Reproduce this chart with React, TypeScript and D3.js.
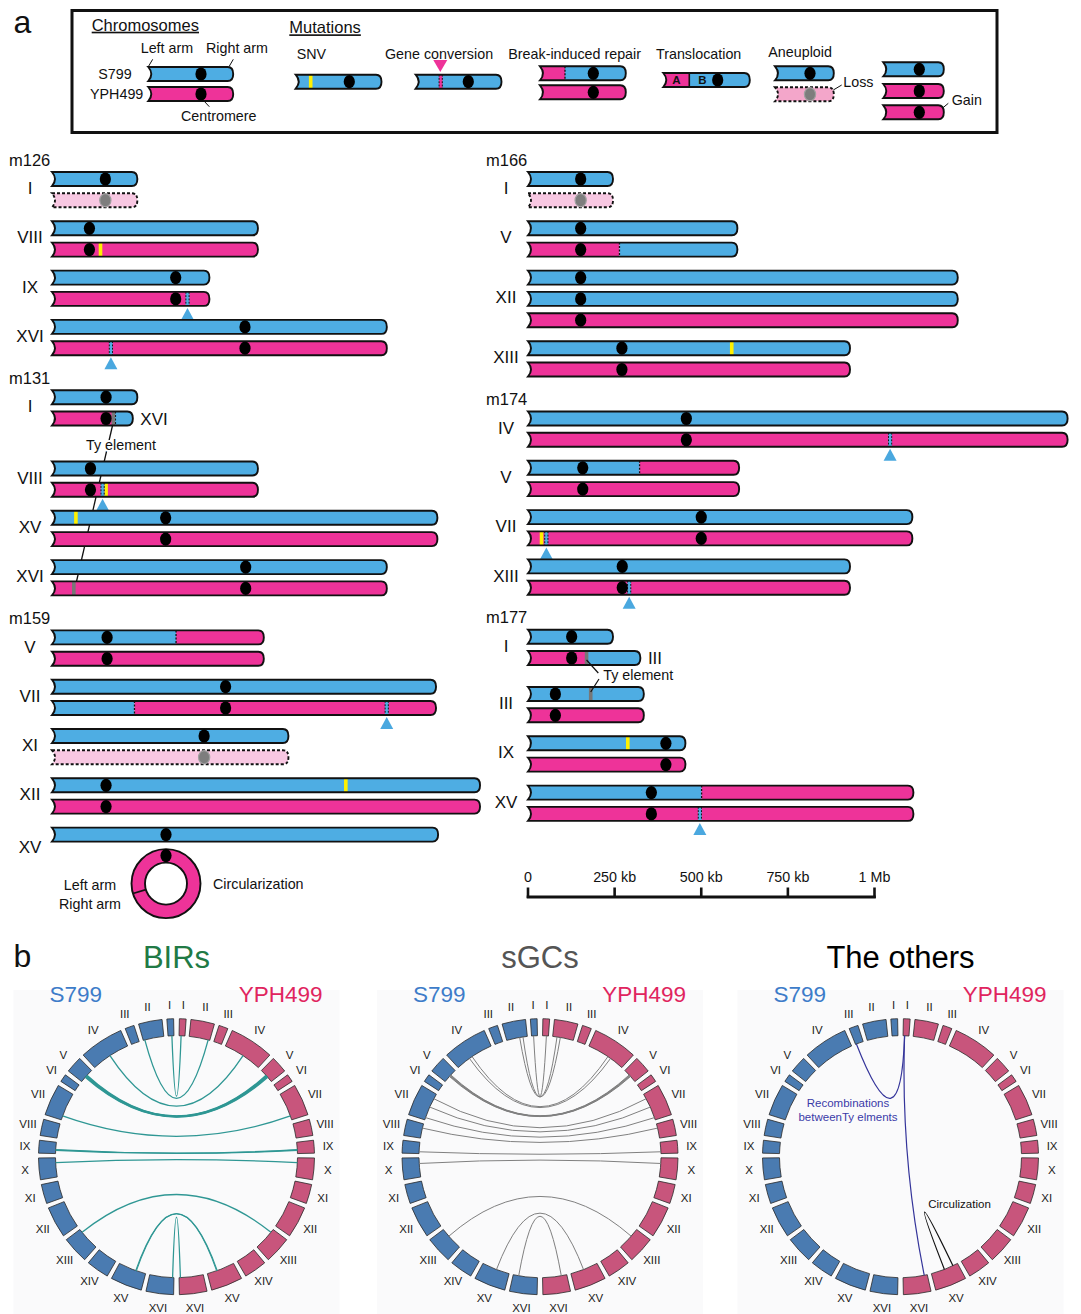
import React from 'react';
import * as d3 from 'd3';

const BLUE = '#4eade3';
const PINK = '#ee3399';
const LOSS_FILL = '#f8c8e2';
const LEGEND_LOSS_FILL = '#f3a6ca';
const YELLOW = '#fff100';
const TY_GREY = '#777777';
const TRI_BLUE = '#4aa8df';
const FONT = "'Liberation Sans', Arial, Helvetica, sans-serif";

type Seg = [string, number, number];
type Row = { c?: string; segs?: Seg[]; end?: number; snv?: number[]; gc?: number[]; ty?: number[]; junc?: number[]; tag?: string; ring?: boolean };
type Group = { chr: string; len: number; cen: number; rows: Row[]; extra?: number };

// ---------- part a : chromosome values in kb ----------
const m126Groups: Group[] = [
  { chr: 'I', len: 242, cen: 154, rows: [{ c: 'B' }, { c: 'L' }] },
  { chr: 'VIII', len: 590, cen: 108, rows: [{ c: 'B' }, { c: 'P', snv: [140] }] },
  { chr: 'IX', len: 450, cen: 357, rows: [{ c: 'B' }, { c: 'P', gc: [391] }] },
  { chr: 'XVI', len: 962, cen: 557, rows: [{ c: 'B' }, { c: 'P', gc: [170] }] },
];
const m131Groups: Group[] = [
  { chr: 'I', len: 242, cen: 156, extra: 22, rows: [{ c: 'B' }, { segs: [['P', 0, 182], ['B', 182, 229]], end: 229, ty: [177], junc: [183], tag: 'XVI' }] },
  { chr: 'VIII', len: 590, cen: 111, rows: [{ c: 'B' }, { c: 'P', gc: [146], snv: [156] }] },
  { chr: 'XV', len: 1108, cen: 328, rows: [{ c: 'B', snv: [69] }, { c: 'P' }] },
  { chr: 'XVI', len: 962, cen: 559, rows: [{ c: 'B' }, { c: 'P', ty: [63] }] },
];
const m159Groups: Group[] = [
  { chr: 'V', len: 607, cen: 159, rows: [{ segs: [['B', 0, 358], ['P', 358, 607]], junc: [358] }, { c: 'P' }] },
  { chr: 'VII', len: 1104, cen: 501, rows: [{ c: 'B' }, { segs: [['B', 0, 238], ['P', 238, 1104]], junc: [238], gc: [966] }] },
  { chr: 'XI', len: 678, cen: 439, rows: [{ c: 'B' }, { c: 'L' }] },
  { chr: 'XII', len: 1231, cen: 156, rows: [{ c: 'B', snv: [848] }, { c: 'P' }] },
  { chr: 'XV', len: 1110, cen: 329, rows: [{ c: 'B' }, { c: 'P', ring: true }] },
];
const m166Groups: Group[] = [
  { chr: 'I', len: 241, cen: 152, rows: [{ c: 'B' }, { c: 'L' }] },
  { chr: 'V', len: 600, cen: 152, rows: [{ c: 'B' }, { segs: [['P', 0, 264], ['B', 264, 600]], junc: [264] }] },
  { chr: 'XII', len: 1236, cen: 152, rows: [{ c: 'B' }, { c: 'B' }, { c: 'P' }] },
  { chr: 'XIII', len: 925, cen: 271, rows: [{ c: 'B', snv: [588] }, { c: 'P' }] },
];
const m174Groups: Group[] = [
  { chr: 'IV', len: 1553, cen: 457, rows: [{ c: 'B' }, { c: 'P', gc: [1045] }] },
  { chr: 'V', len: 605, cen: 158, rows: [{ segs: [['B', 0, 322], ['P', 322, 605]], junc: [322] }, { c: 'P' }] },
  { chr: 'VII', len: 1105, cen: 500, rows: [{ c: 'B' }, { c: 'P', snv: [39], gc: [53] }] },
  { chr: 'XIII', len: 925, cen: 272, rows: [{ c: 'B' }, { c: 'P', gc: [292] }] },
];
const m177Groups: Group[] = [
  { chr: 'I', len: 241, cen: 126, extra: 8, rows: [{ c: 'B' }, { segs: [['P', 0, 169], ['B', 169, 320]], end: 320, ty: [169], tag: 'III' }] },
  { chr: 'III', len: 330, cen: 79, rows: [{ c: 'B', ty: [181] }, { c: 'P' }] },
  { chr: 'IX', len: 450, cen: 398, rows: [{ c: 'B', snv: [288] }, { c: 'P' }] },
  { chr: 'XV', len: 1108, cen: 356, rows: [{ segs: [['B', 0, 501], ['P', 501, 1108]], junc: [501] }, { c: 'P', gc: [496] }] },
];

const scaleTicks = [0, 250, 500, 750, 1000];
const scaleTickLabels = ['0', '250 kb', '500 kb', '750 kb', '1 Mb'];

// ---------- part b : circos values ----------
const circChroms = ['I', 'II', 'III', 'IV', 'V', 'VI', 'VII', 'VIII', 'IX', 'X', 'XI', 'XII', 'XIII', 'XIV', 'XV', 'XVI'];
const circLens = [230, 813, 317, 1532, 577, 270, 1091, 563, 440, 746, 667, 1078, 924, 784, 1091, 948];

// [chromosome, kb on S799, kb on YPH499, width]
const birLinks: [string, number, number, number][] = [
  ['I', 80, 80, 1.3], ['II', 750, 750, 1.3], ['IV', 780, 780, 1.3],
  ['V', 260, 260, 1.4], ['V', 285, 285, 1.4], ['V', 310, 310, 1.4], ['V', 335, 335, 1.4], ['V', 360, 360, 1.4],
  ['VII', 930, 930, 1.3], ['IX', 290, 290, 1.3], ['IX', 310, 310, 1.3], ['X', 185, 185, 1.3], ['XIII', 140, 140, 1.3],
  ['XV', 690, 690, 1.1], ['XV', 715, 715, 1.1], ['XVI', 895, 895, 1.3],
];
const sgcLinks: [string, number, number, number][] = [
  ['I', 150, 150, 1], ['II', 170, 170, 1], ['II', 300, 300, 1], ['IV', 845, 845, 1], ['IV', 970, 970, 1],
  ['V', 240, 240, 1], ['V', 260, 260, 1], ['V', 280, 280, 1], ['V', 300, 300, 1], ['V', 320, 320, 1],
  ['VII', 200, 200, 1], ['VII', 560, 560, 1], ['VII', 1000, 1000, 1], ['VIII', 170, 170, 1],
  ['IX', 370, 370, 1], ['X', 220, 220, 1], ['XIII', 335, 335, 1], ['XV', 575, 575, 1], ['XVI', 217, 217, 1],
];
// [sideA, chrA, kbA, sideB, chrB, kbB, kind]
const otherLinks: [string, string, number, string, string, number, string][] = [
  ['S', 'III', 280, 'Y', 'I', 60, 'ty'],
  ['Y', 'I', 60, 'Y', 'XVI', 120, 'ty'],
  ['Y', 'XV', 200, 'Y', 'XV', 560, 'circ'],
];

// ---------- helpers ----------
const KB_PX = d3.scaleLinear().domain([0, 1000]).range([0, 346.5]);
const colorOf: Record<string, string> = { B: BLUE, P: PINK };

type Mark = { type: string; x: number; color?: string };

function Chrom(props: { id: string; x0: number; x1: number; y: number; segs: { color: string; a: number; b: number }[]; cenX?: number; loss?: boolean; lossFill?: string; marks?: Mark[] }) {
  const { id, x0, x1, y, segs, cenX, loss, lossFill, marks = [] } = props;
  const h = 7;
  const d = `M${x0},${y - h} L${x1 - 4},${y - h} Q${x1 + 1.5},${y - h} ${x1 + 1.5},${y} Q${x1 + 1.5},${y + h} ${x1 - 4},${y + h} L${x0},${y + h} Q${x0 + 6},${y} ${x0},${y - h} Z`;
  return (
    <g>
      <clipPath id={id}><path d={d} /></clipPath>
      <g clipPath={`url(#${id})`}>
        {loss ? (
          <rect x={x0 - 2} y={y - h} width={x1 - x0 + 6} height={2 * h} fill={lossFill || LOSS_FILL} />
        ) : (
          segs.map((s, i) => {
            const a = i === 0 ? x0 - 2 : s.a;
            const b = i === segs.length - 1 ? x1 + 4 : s.b;
            return <rect key={i} x={a} y={y - h} width={b - a} height={2 * h} fill={s.color} />;
          })
        )}
        {marks.map((m, i) => {
          if (m.type === 'snv') return <rect key={i} x={m.x - 1.8} y={y - h} width={3.6} height={2 * h} fill={YELLOW} />;
          if (m.type === 'ty') return <rect key={i} x={m.x - 1.8} y={y - h} width={3.6} height={2 * h} fill={TY_GREY} />;
          if (m.type === 'gc')
            return (
              <g key={i}>
                <rect x={m.x - 1.8} y={y - h} width={3.6} height={2 * h} fill={m.color} />
                <line x1={m.x - 1.6} x2={m.x - 1.6} y1={y - h} y2={y + h} stroke="#111" strokeWidth={1} strokeDasharray="1.8 1.5" />
                <line x1={m.x + 1.6} x2={m.x + 1.6} y1={y - h} y2={y + h} stroke="#111" strokeWidth={1} strokeDasharray="1.8 1.5" />
              </g>
            );
          if (m.type === 'junc') return <line key={i} x1={m.x} x2={m.x} y1={y - h} y2={y + h} stroke="#111" strokeWidth={1.3} strokeDasharray="2 1.5" />;
          if (m.type === 'solid') return <line key={i} x1={m.x} x2={m.x} y1={y - h} y2={y + h} stroke="#111" strokeWidth={1.6} />;
          return null;
        })}
      </g>
      <path d={d} fill="none" stroke="#111" strokeWidth={1.9} strokeDasharray={loss ? '3 2' : undefined} />
      {cenX != null && (
        <ellipse cx={cenX} cy={y} rx={5.6} ry={6.6} fill={loss ? '#7d7d7d' : '#000'} stroke={loss ? '#a0a0a0' : 'none'} strokeWidth={1.2} />
      )}
    </g>
  );
}

const simple = (color: string, x0: number, x1: number) => [{ color, a: x0, b: x1 }];

type Col = { x0: number; labelX: number; nameX: number; panels: [string, Group[]][] };
const columns: Col[] = [
  { x0: 52, labelX: 30, nameX: 9, panels: [['m126', m126Groups], ['m131', m131Groups], ['m159', m159Groups]] },
  { x0: 528, labelX: 506, nameX: 486, panels: [['m166', m166Groups], ['m174', m174Groups], ['m177', m177Groups]] },
];

const ROW_STEP = 21.3;
const GROUP_GAP = 28;

function buildColumns() {
  const els: React.ReactNode[] = [];
  const pos: Record<string, { y: number; x: (kb: number) => number }> = {};
  columns.forEach((col, ci) => {
    const X = (kb: number) => col.x0 + KB_PX(kb);
    let labelY = 160;
    col.panels.forEach(([name, groups]) => {
      els.push(
        <text key={`pn-${name}`} x={col.nameX} y={labelY + 5.5} fontSize={16.5} fill="#111">{name}</text>
      );
      let y = labelY + 19;
      let lastY = y;
      groups.forEach((g, gi) => {
        const rowYs = g.rows.map((r, ri) => (r.ring ? y + 49 : y + ri * ROW_STEP));
        const hasRing = g.rows.some((r) => r.ring);
        const labelCenter = hasRing ? rowYs[0] + 12.7 : (rowYs[0] + rowYs[rowYs.length - 1]) / 2 - 1.5;
        els.push(
          <text key={`gl-${name}-${gi}`} x={col.labelX} y={labelCenter + 6} fontSize={17} textAnchor="middle" fill="#111">{g.chr}</text>
        );
        g.rows.forEach((r, ri) => {
          const ry = rowYs[ri];
          const key = `${name}-${gi}-${ri}`;
          pos[key] = { y: ry, x: X };
          if (r.ring) {
            const cx = X(g.cen);
            const cy = ry;
            const ang = (-(g.cen / g.len) * 360 * Math.PI) / 180;
            els.push(
              <g key={`ring-${key}`}>
                <circle cx={cx} cy={cy} r={34.5} fill={PINK} stroke="#111" strokeWidth={1.9} />
                <circle cx={cx} cy={cy} r={21} fill="#fff" stroke="#111" strokeWidth={1.9} />
                <line x1={cx + 21 * Math.sin(ang)} y1={cy - 21 * Math.cos(ang)} x2={cx + 34.5 * Math.sin(ang)} y2={cy - 34.5 * Math.cos(ang)} stroke="#111" strokeWidth={1.6} />
                <ellipse cx={cx} cy={cy - 28} rx={5.6} ry={6.6} fill="#000" />
                <text x={cx - 76} y={cy + 6.7} fontSize={14.3} textAnchor="middle" fill="#111">Left arm</text>
                <text x={cx - 76} y={cy + 25.7} fontSize={14.3} textAnchor="middle" fill="#111">Right arm</text>
                <text x={cx + 47} y={cy + 5} fontSize={14.3} fill="#111">Circularization</text>
              </g>
            );
            return;
          }
          const end = r.end ?? g.len;
          const loss = r.c === 'L';
          const segDefs: Seg[] = r.segs ?? [[r.c === 'L' ? 'P' : (r.c as string), 0, end]];
          const segs = segDefs.map(([c, a, b]) => ({ color: colorOf[c], a: X(a), b: X(b) }));
          const baseAt = (kb: number) => {
            const s = segDefs.find(([, a, b]) => kb >= a && kb <= b) || segDefs[0];
            return s[0];
          };
          const marks: Mark[] = [];
          (r.junc || []).forEach((kb) => marks.push({ type: 'junc', x: X(kb) }));
          (r.snv || []).forEach((kb) => marks.push({ type: 'snv', x: X(kb) }));
          (r.ty || []).forEach((kb) => marks.push({ type: 'ty', x: X(kb) }));
          (r.gc || []).forEach((kb) => marks.push({ type: 'gc', x: X(kb), color: baseAt(kb) === 'P' ? BLUE : PINK }));
          els.push(
            <Chrom key={`c-${key}`} id={`clip-${ci}-${key}`} x0={X(0)} x1={X(end)} y={ry} segs={segs} cenX={X(g.cen)} loss={loss} marks={marks} />
          );
          (r.gc || []).forEach((kb, k) => {
            const tx = X(kb);
            els.push(
              <polygon key={`tri-${key}-${k}`} points={`${tx},${ry + 9} ${tx - 6.5},${ry + 21} ${tx + 6.5},${ry + 21}`} fill={TRI_BLUE} />
            );
          });
          if (r.tag) {
            els.push(
              <text key={`tag-${key}`} x={X(end) + 9} y={ry + 6} fontSize={17} fill="#111">{r.tag}</text>
            );
          }
        });
        lastY = rowYs[rowYs.length - 1];
        y = lastY + GROUP_GAP + (g.extra || 0);
      });
      labelY = lastY + 30;
    });
  });
  return { els, pos };
}

// ---------- circos helpers ----------
const CIRC_GAP = 2;
const CIRC_HALF = 1.2;
const circTotal = d3.sum(circLens);
const circS = (180 - 2 * CIRC_HALF - 15 * CIRC_GAP) / circTotal;
const circStarts = circLens.map((_, i) => CIRC_HALF + d3.sum(circLens.slice(0, i)) * circS + i * CIRC_GAP);
const angleDeg = (side: string, chr: string, kb: number) => {
  const i = circChroms.indexOf(chr);
  const a = circStarts[i] + kb * circS;
  return side === 'S' ? -a : a;
};
const R_IN = 121;
const R_OUT = 138;
const CY = 1156.7;
const ptAt = (cx: number, deg: number, r: number) => {
  const t = (deg * Math.PI) / 180;
  return [cx + r * Math.sin(t), CY - r * Math.cos(t)];
};
const linkPath = (cx: number, a: number[], b: number[]) => {
  const p = d3.path();
  p.moveTo(a[0], a[1]);
  p.quadraticCurveTo(cx, CY, b[0], b[1]);
  return p.toString();
};

function Circos({ cx, title, titleColor, children }: { cx: number; title: string; titleColor: string; children?: React.ReactNode }) {
  const arc = d3.arc();
  const segs: React.ReactNode[] = [];
  ['S', 'Y'].forEach((side) => {
    circChroms.forEach((chr, i) => {
      const a0 = circStarts[i];
      const a1 = a0 + circLens[i] * circS;
      const sa = side === 'S' ? -a1 : a0;
      const ea = side === 'S' ? -a0 : a1;
      const d = arc({ innerRadius: R_IN, outerRadius: R_OUT, startAngle: (sa * Math.PI) / 180, endAngle: (ea * Math.PI) / 180 } as any) as string;
      segs.push(
        <path key={`${side}-${chr}`} d={d} transform={`translate(${cx},${CY})`} fill={side === 'S' ? '#4a7bb1' : '#c8557c'} stroke="#2a2a2a" strokeWidth={0.8} />
      );
      const mid = side === 'S' ? -(a0 + a1) / 2 : (a0 + a1) / 2;
      const [lx, ly] = ptAt(cx, mid, 152);
      segs.push(
        <text key={`l-${side}-${chr}`} x={lx} y={ly + 4} fontSize={11.5} textAnchor="middle" fill="#1a1a1a">{chr}</text>
      );
    });
  });
  return (
    <g>
      <rect x={cx - 163} y={990} width={326} height={324} fill="#fafafb" />
      <text x={cx} y={968} fontSize={31} textAnchor="middle" fill={titleColor}>{title}</text>
      <text x={cx - 127} y={1002.3} fontSize={22.5} fill="#3d7cc9">S799</text>
      <text x={cx + 146} y={1002.3} fontSize={22.5} textAnchor="end" fill="#e0245e">YPH499</text>
      {segs}
      {children}
    </g>
  );
}

const CX = [176.5, 540, 900.5];

export default function App() {
  const { els, pos } = buildColumns();

  // m131 Ty connector (I::XVI translocation)
  const a = pos['m131-0-1'];
  const b = pos['m131-3-1'];
  const tyA = [a.x(m131Groups[0].rows[1].ty![0]), a.y + 3.5];
  const tyB = [b.x(m131Groups[3].rows[1].ty![0]), b.y + 4.6];
  // m177 Ty pointers
  const c = pos['m177-0-1'];
  const e = pos['m177-1-0'];
  const tyC = [c.x(m177Groups[0].rows[1].ty![0]), c.y + 2];
  const tyE = [e.x(m177Groups[1].rows[0].ty![0]), e.y - 2];
  const lblX = c.x(0) + 75.3;
  const lblY = c.y + 22;

  const sx = (t: number) => 528 + KB_PX(t);

  return (
    <svg width={1081} height={1314} style={{ position: 'absolute', left: 0, top: 0, background: '#fff' }} fontFamily={FONT}>
      <rect x={0} y={0} width={1081} height={1314} fill="#fff" />
      {/* ---------- panel a legend ---------- */}
      <text x={13.5} y={33.3} fontSize={32} fill="#111">a</text>
      <rect x={72} y={10.5} width={925} height={122} fill="none" stroke="#111" strokeWidth={3} />
      <text x={91.7} y={30.7} fontSize={16.5} textDecoration="underline" fill="#111">Chromosomes</text>
      <text x={289.3} y={33.3} fontSize={16.5} textDecoration="underline" fill="#111">Mutations</text>
      <g fontSize={14.3} fill="#111">
        <text x={140.7} y={53.3}>Left arm</text>
        <text x={206} y={53.3}>Right arm</text>
        <text x={131.7} y={79} textAnchor="end">S799</text>
        <text x={143.3} y={99} textAnchor="end">YPH499</text>
        <text x={181} y={121}>Centromere</text>
        <text x={296.7} y={59.3}>SNV</text>
        <text x={385} y={59.3}>Gene conversion</text>
        <text x={508.3} y={59.3}>Break-induced repair</text>
        <text x={656} y={59.3}>Translocation</text>
        <text x={768.3} y={56.7}>Aneuploid</text>
        <text x={843.3} y={86.5}>Loss</text>
        <text x={951.7} y={104.5}>Gain</text>
      </g>
      <g stroke="#111" strokeWidth={1}>
        <line x1={152.7} y1={59.3} x2={148.3} y2={66.7} />
        <line x1={233.3} y1={59.3} x2={229} y2={66.7} />
        <line x1={204} y1={101} x2={209.3} y2={106.7} />
        <line x1={833.3} y1={90} x2={841.7} y2={85} />
        <line x1={942.3} y1={108.3} x2={948.3} y2={103.3} />
      </g>
      <Chrom id="lg1" x0={148.3} x1={231.7} y={74} segs={simple(BLUE, 148.3, 231.7)} cenX={201} />
      <Chrom id="lg2" x0={148.3} x1={231.7} y={94} segs={simple(PINK, 148.3, 231.7)} cenX={201} />
      <Chrom id="lg3" x0={295.7} x1={380} y={81.7} segs={simple(BLUE, 295.7, 380)} cenX={349.3} marks={[{ type: 'snv', x: 310.7 }]} />
      <Chrom id="lg4" x0={415.7} x1={500} y={81.7} segs={simple(BLUE, 415.7, 500)} cenX={468.3} marks={[{ type: 'gc', x: 440.7, color: PINK }]} />
      <polygon points="433.3,60 447.3,60 440.3,72" fill={PINK} />
      <Chrom id="lg5" x0={540} x1={624.3} y={73.3} segs={[{ color: PINK, a: 540, b: 565 }, { color: BLUE, a: 565, b: 624.3 }]} cenX={593.3} marks={[{ type: 'junc', x: 565 }]} />
      <Chrom id="lg6" x0={540} x1={624.3} y={92.3} segs={simple(PINK, 540, 624.3)} cenX={593.3} />
      <Chrom id="lg7" x0={663.3} x1={748.3} y={80} segs={[{ color: PINK, a: 663.3, b: 689.3 }, { color: BLUE, a: 689.3, b: 748.3 }]} cenX={717.7} marks={[{ type: 'solid', x: 689.3 }]} />
      <text x={676.5} y={84.2} fontSize={11.5} fontWeight="bold" textAnchor="middle" fill="#111">A</text>
      <text x={702.3} y={84.2} fontSize={11.5} fontWeight="bold" textAnchor="middle" fill="#111">B</text>
      <Chrom id="lg8" x0={775} x1={832.3} y={73.3} segs={simple(BLUE, 775, 832.3)} cenX={810} />
      <Chrom id="lg9" x0={775} x1={832.3} y={94.3} segs={[]} loss lossFill={LEGEND_LOSS_FILL} cenX={810} />
      <Chrom id="lg10" x0={883.3} x1={942.3} y={69.3} segs={simple(BLUE, 883.3, 942.3)} cenX={919.3} />
      <Chrom id="lg11" x0={883.3} x1={942.3} y={91} segs={simple(PINK, 883.3, 942.3)} cenX={919.3} />
      <Chrom id="lg12" x0={883.3} x1={942.3} y={112.3} segs={simple(PINK, 883.3, 942.3)} cenX={919.3} />

      {/* ---------- panel a chromosomes ---------- */}
      <line x1={tyA[0]} y1={tyA[1]} x2={tyB[0]} y2={tyB[1]} stroke="#111" strokeWidth={1.3} />
      {els}
      <text x={a.x(0) + 34} y={a.y + 31} fontSize={14.3} fill="#111" stroke="#fff" strokeWidth={4} paintOrder="stroke">Ty element</text>
      <line x1={tyC[0]} y1={tyC[1]} x2={lblX - 5} y2={lblY - 7} stroke="#111" strokeWidth={1.2} />
      <line x1={lblX - 4.3} y1={lblY - 1} x2={tyE[0]} y2={tyE[1]} stroke="#111" strokeWidth={1.2} />
      <text x={lblX} y={lblY} fontSize={14.3} fill="#111">Ty element</text>

      {/* scale bar */}
      <g>
        {scaleTicks.map((t, i) => (
          <g key={t}>
            <text x={sx(t)} y={882} fontSize={14.3} textAnchor="middle" fill="#111">{scaleTickLabels[i]}</text>
            <line x1={sx(t)} x2={sx(t)} y1={887.5} y2={898} stroke="#111" strokeWidth={2.6} />
          </g>
        ))}
        <line x1={sx(0) - 1.3} x2={sx(1000) + 1.3} y1={897} y2={897} stroke="#111" strokeWidth={3} />
      </g>

      {/* ---------- panel b ---------- */}
      <text x={13.5} y={967} fontSize={32} fill="#111">b</text>
      <Circos cx={CX[0]} title="BIRs" titleColor="#217a45">
        {birLinks.map(([chr, ks, ky, w], i) => (
          <path key={i} d={linkPath(CX[0], ptAt(CX[0], angleDeg('S', chr, ks), R_IN), ptAt(CX[0], angleDeg('Y', chr, ky), R_IN))} fill="none" stroke="#2f9794" strokeWidth={w} />
        ))}
      </Circos>
      <Circos cx={CX[1]} title="sGCs" titleColor="#555555">
        {sgcLinks.map(([chr, ks, ky, w], i) => (
          <path key={i} d={linkPath(CX[1], ptAt(CX[1], angleDeg('S', chr, ks), R_IN), ptAt(CX[1], angleDeg('Y', chr, ky), R_IN))} fill="none" stroke="#808080" strokeWidth={w} />
        ))}
      </Circos>
      <Circos cx={CX[2]} title="The others" titleColor="#000000">
        {otherLinks.map(([sa, ca, ka, sb, cb, kbb, kind], i) => (
          <path key={i} d={linkPath(CX[2], ptAt(CX[2], angleDeg(sa, ca, ka), R_IN), ptAt(CX[2], angleDeg(sb, cb, kbb), R_IN))} fill="none" stroke={kind === 'ty' ? '#34349a' : '#111'} strokeWidth={1.2} />
        ))}
        <text x={848} y={1107} fontSize={11.5} textAnchor="middle" fill="#3a3aa8">Recombinations</text>
        <text x={848} y={1121} fontSize={11.5} textAnchor="middle" fill="#3a3aa8">betweenTy elments</text>
        <text x={959.5} y={1208} fontSize={11.5} textAnchor="middle" fill="#111">Circulization</text>
      </Circos>
    </svg>
  );
}
